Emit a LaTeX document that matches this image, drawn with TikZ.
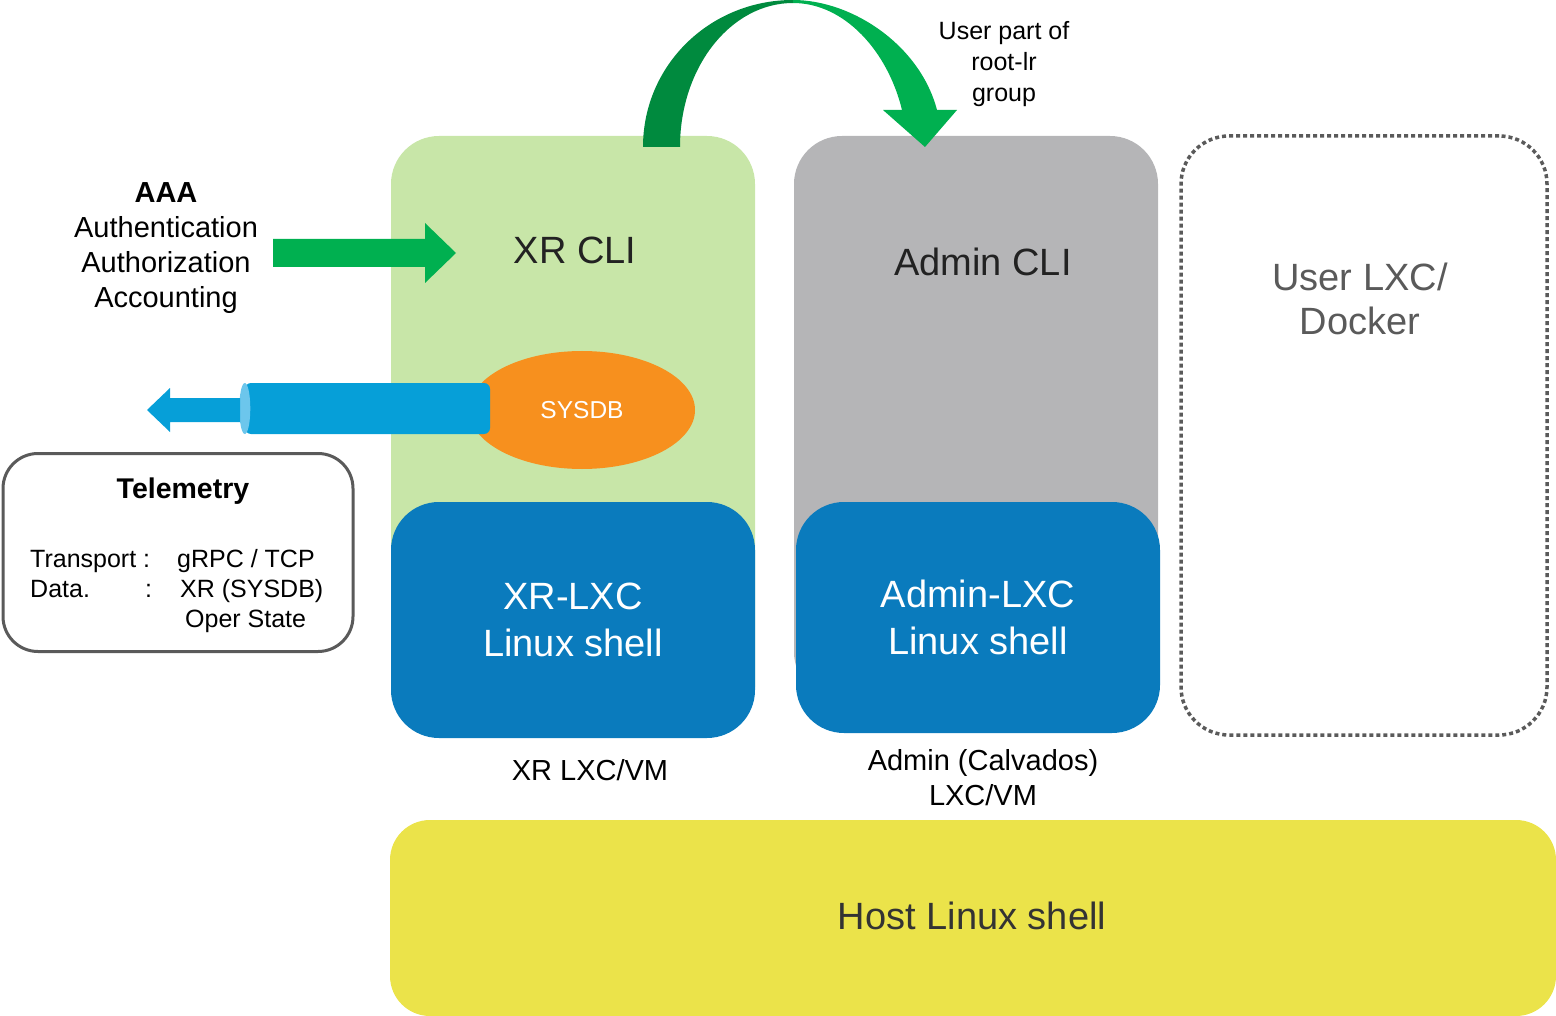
\documentclass[tikz,border=0pt]{standalone}
\usepackage{fontspec}
\setmainfont{Liberation Sans}
\usetikzlibrary{positioning,shapes.geometric}
\definecolor{xrgreen}{HTML}{C8E6A8}
\definecolor{lxcblue}{HTML}{0A7BBD}
\definecolor{admingray}{HTML}{B5B5B7}
\definecolor{hostyellow}{HTML}{EBE34A}
\definecolor{sysorange}{HTML}{F7901E}
\definecolor{pipeblue}{HTML}{069FD8}
\definecolor{pipecap}{HTML}{6CC6EC}
\definecolor{aaagreen}{HTML}{00B050}
\definecolor{darkgreen}{HTML}{008A3E}
\definecolor{framegray}{HTML}{5A5A5A}
\definecolor{inktext}{HTML}{222222}
\tikzset{
  vmbox/.style={rounded corners=48pt, minimum width=364pt, inner sep=0pt},
  shellbox/.style={vmbox, fill=lxcblue, text=white, align=center,
    font=\fontsize{38}{47}\selectfont},
  bigtext/.style={text=inktext, font=\fontsize{38}{45}\selectfont, align=center},
  midtext/.style={font=\fontsize{29}{35}\selectfont, align=center},
  smalltext/.style={font=\fontsize{25}{30}\selectfont, align=center},
}
\begin{document}
\begin{tikzpicture}[x=1pt,y=-1pt]
\useasboundingbox (0,0) rectangle (1556,1016);
% VM containers
\node[vmbox, fill=xrgreen, minimum height=599pt] (xrvm) at (573,435.5) {};
\node[vmbox, fill=admingray, minimum height=564pt] (adminvm) at (976,418) {};
\node[vmbox, draw=framegray, line width=3.5pt, dash pattern=on 4pt off 3pt,
  minimum width=366pt, minimum height=599pt] (uservm) at (1364,435.5) {};
\node[vmbox, fill=hostyellow, rounded corners=40pt, minimum width=1166pt,
  minimum height=196pt] (host) at (973,918) {};
% shells
\node[shellbox, minimum height=236pt] (xrshell) at (573,620) {XR-LXC\\Linux shell};
\node[shellbox, minimum height=231pt] (adminshell) at (978,617.5) {Admin-LXC\\Linux shell};
% sysdb and telemetry pipe
\node[ellipse, fill=sysorange, minimum width=226pt, minimum height=118pt,
  text=white, font=\fontsize{24.5}{28}\selectfont] (sysdb) at (582,410) {SYSDB};
\node[fill=pipeblue, rounded corners=6pt, minimum width=245pt, minimum height=51pt,
  inner sep=0pt] (pipe) at (367.5,408.5) {};
\fill[pipecap] (pipe.west) ellipse [x radius=5.5pt, y radius=25.5pt];
\coordinate (pipeend) at (240,410);
\fill[pipeblue] (pipeend) ++(0,-12) -- ++(-70,0) -- ++(0,-10) -- ++(-23,22)
  -- ++(23,22) -- ++(0,-10) -- ++(70,0) -- cycle;
% AAA arrow
\coordinate (aaatail) at (273,253);
\fill[aaagreen] (aaatail) ++(0,-14) -- ++(152,0) -- ++(0,-16) -- ++(31,30)
  -- ++(-31,30) -- ++(0,-16) -- ++(-152,0) -- cycle;
% root-lr arc
\fill[darkgreen] (643,147) .. controls (643,65) and (710,0) .. (793,0)
  -- (793,3) .. controls (731,3) and (680,67) .. (680,147) -- cycle;
\fill[aaagreen] (793,0) .. controls (852,0) and (920,45) .. (937,110)
  -- (957,110) -- (925,147) -- (883,110) -- (902,110)
  .. controls (888,52) and (845,3) .. (793,3) -- cycle;
% labels
\node[bigtext] (xrcli) at (575,250) {XR CLI};
\node[bigtext] (admincli) at (983,262) {Admin CLI};
\node[bigtext, text=framegray, font=\fontsize{38}{44}\selectfont] (usertext)
  at (1360,299) {User LXC/\\Docker};
\node[bigtext, text=black!80] (hosttext) at (972,916) {Host Linux shell};
\node[midtext] (aaa) at (166,248.5) {\textbf{AAA}\\Authentication\\Authorization\\Accounting};
\node[midtext] (xrvmlabel) at (590,770) {XR LXC/VM};
\node[midtext] (adminvmlabel) at (983,777.5) {Admin (Calvados)\\LXC/VM};
\node[smalltext, font=\fontsize{25}{31}\selectfont] (rootlr) at (1004,64) {User part of\\root-lr\\group};
% telemetry box
\node[draw=framegray, line width=3pt, fill=white, rounded corners=35pt,
  minimum width=350pt, minimum height=198pt] (telemetry) at (178,552.5) {};
\node[font=\fontsize{28.5}{32}\selectfont\bfseries] (teltitle) at (183,491) {Telemetry};
\node[smalltext, anchor=base west, inner sep=0pt] (transport) at (30,567) {Transport :};
\node[smalltext, anchor=base west, inner sep=0pt] (grpc) at (177,567) {gRPC / TCP};
\node[smalltext, anchor=base west, inner sep=0pt] (data) at (30,597) {Data.};
\node[smalltext, anchor=base west, inner sep=0pt] (datacolon) at (145,597) {:};
\node[smalltext, anchor=base west, inner sep=0pt] (xrsysdb) at (180,597) {XR (SYSDB)};
\node[smalltext, anchor=base west, inner sep=0pt] (operstate) at (185,627) {Oper State};
\end{tikzpicture}
\end{document}
